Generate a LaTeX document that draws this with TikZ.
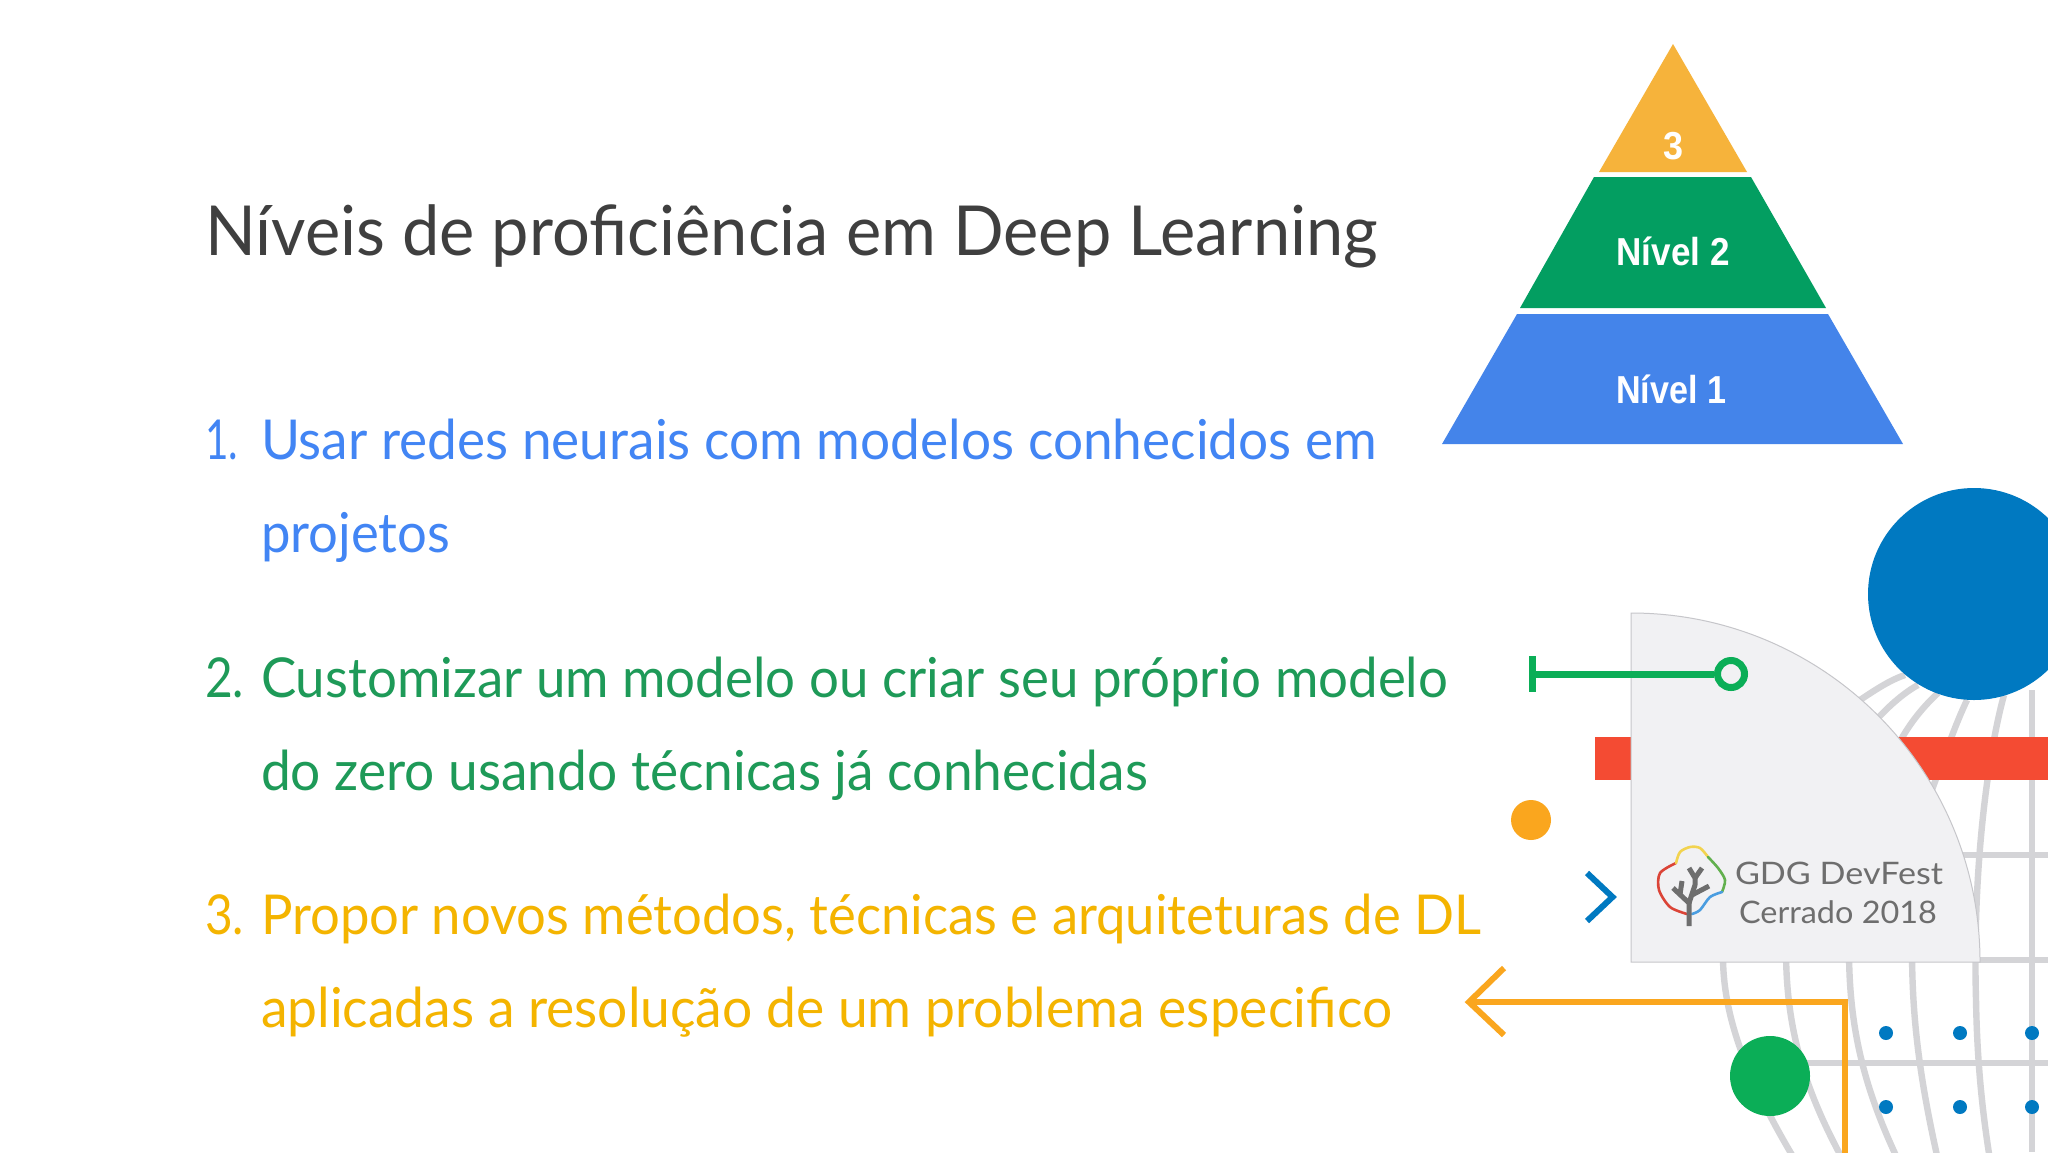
\documentclass[tikz,border=0pt]{standalone}
\usepackage{fontspec}
\usepackage{graphicx}
\setmainfont{Lato}
\newfontfamily\nivelfont{Liberation Sans}
\definecolor{titlec}{HTML}{3F3F3F}
\definecolor{bluet}{HTML}{4285F4}
\definecolor{greent}{HTML}{1E9A58}
\definecolor{yellowt}{HTML}{F4B400}
\definecolor{pyrY}{HTML}{F6B33B}
\definecolor{pyrG}{HTML}{039E61}
\definecolor{pyrB}{HTML}{4484EA}
\definecolor{circB}{HTML}{0079C1}
\definecolor{redbar}{HTML}{F44B33}
\definecolor{circG}{HTML}{0BAE57}
\definecolor{orangeL}{HTML}{FAA61E}
\definecolor{gridc}{HTML}{D4D4D7}
\definecolor{cardc}{HTML}{F1F1F3}
\definecolor{cardl}{HTML}{C6C6CA}
\definecolor{logot}{HTML}{6E6E6E}
\definecolor{logoR}{HTML}{DB4437}
\definecolor{logoY}{HTML}{F2D34F}
\definecolor{logoG}{HTML}{62B04E}
\definecolor{logoB}{HTML}{4A9DE0}
% a line of text set to a given width (px) at its own height
\newcommand{\fitw}[2]{\resizebox{#1\dimexpr 0.5pt\relax}{\height}{#2}}
\tikzset{
  x=0.5pt,y=-0.5pt,
  txt/.style={inner sep=0,outer sep=0,anchor=base west,font=\fontsize{27.5pt}{30pt}\selectfont},
  ttl/.style={inner sep=0,outer sep=0,anchor=base west,text=titlec,font=\fontsize{34.5pt}{38pt}\selectfont},
  pyr/.style={inner sep=0,outer sep=0,anchor=base,text=white,font=\fontsize{19.5pt}{22pt}\nivelfont\bfseries},
  logotxt/.style={inner sep=0,outer sep=0,anchor=base west,text=logot,font=\fontsize{15.5pt}{18pt}\selectfont},
  gridl/.style={draw=gridc,line width=3.2pt},
  logob/.style={line width=1.3pt,line cap=round,line join=round},
  tree/.style={draw=logot,line width=2.5pt,line cap=butt,line join=round},
}
\begin{document}
\begin{tikzpicture}
\useasboundingbox (0,0) rectangle (2048,1152);
\fill[white] (0,0) rectangle (2048,1152);

% title and list
\node[ttl] (title) at (205,255) {\fitw{1173}{Níveis de proficiência em Deep Learning}};
\node[txt,text=bluet] (n1) at (205,459) {\fitw{33}{1.}};
\node[txt,text=bluet] (l1a) at (261,459) {\fitw{1116}{Usar redes neurais com modelos conhecidos em}};
\node[txt,text=bluet] (l1b) at (261,552) {\fitw{189}{projetos}};
\node[txt,text=greent] (n2) at (205,697) {\fitw{39}{2.}};
\node[txt,text=greent] (l2a) at (261,697) {\fitw{1187}{Customizar um modelo ou criar seu próprio modelo}};
\node[txt,text=greent] (l2b) at (261,790) {\fitw{887}{do zero usando técnicas já conhecidas}};
\node[txt,text=yellowt] (n3) at (205,934) {\fitw{39}{3.}};
\node[txt,text=yellowt] (l3a) at (261,934) {\fitw{1220}{Propor novos métodos, técnicas e arquiteturas de DL}};
\node[txt,text=yellowt] (l3b) at (261,1027) {\fitw{1131}{aplicadas a resolução de um problema especifico}};

% pyramid
\fill[pyrY] (1673,44) -- (1747,172) -- (1599,172) -- cycle;
\fill[pyrG] (1594,177) -- (1751,177) -- (1826,308) -- (1520,308) -- cycle;
\fill[pyrB] (1517,314) -- (1828,314) -- (1903,444) -- (1442,444) -- cycle;
\node[pyr] (p3) at (1673,159) {\fitw{20}{3}};
\node[pyr] (p2) at (1673,265) {\fitw{113}{Nível 2}};
\node[pyr] (p1) at (1671,403) {\fitw{110}{Nível 1}};

% globe lines
\begin{scope}
\clip (0,0) rectangle (2048,1152);
\draw[gridl] (1963,855) -- (2048,855);
\draw[gridl] (1975,960) -- (2048,960);
\draw[gridl] (1800,1063) -- (2048,1063);
\draw[gridl] (2032,690) -- (2032,1152);
\draw[gridl] (1723,950) .. controls (1722,1000) and (1735,1060) .. (1795,1160);
\draw[gridl] (1786,950) .. controls (1786,1030) and (1805,1090) .. (1843,1160);
\draw[gridl] (1849,950) .. controls (1849,1030) and (1865,1090) .. (1898,1160);
\draw[gridl] (1912,950) .. controls (1912,1020) and (1920,1080) .. (1938,1160);
\draw[gridl] (2004,695) .. controls (1990,745) and (1972,860) .. (1976,1000) .. controls (1977,1060) and (1982,1110) .. (1990,1160);
\draw[gridl] (1905,675) .. controls (1890,680) and (1875,690) .. (1860,700);
\draw[gridl] (1918,685) .. controls (1905,692) and (1890,705) .. (1878,718);
\draw[gridl] (1938,693) .. controls (1925,705) and (1910,722) .. (1898,745);
\draw[gridl] (1967,700) .. controls (1955,725) and (1945,755) .. (1930,795);
\end{scope}

% red bar
\fill[redbar] (1595,737) rectangle (2048,780);

% card
\draw[draw=cardl,line width=0.5pt,fill=cardc] (1631,613) arc[start angle=-90,end angle=0,radius=349] -- (1631,962) -- cycle;

% green connector with T end and ring
\coordinate (gs) at (1532.5,674);
\node[circle,draw=circG,line width=3.5pt,fill=cardc,minimum size=13.5pt,inner sep=0] (gr) at (1731,674) {};
\draw[draw=circG,line width=3.5pt] (gs) -- (gr);
\draw[draw=circG,line width=3.5pt] (gs) ++(0,-18) -- ++(0,36);

% dots and circles
\fill[circB] (1974,594) circle[radius=106];
\fill[orangeL] (1531,820) circle[radius=20];
\fill[circG] (1770,1076) circle[radius=40];
\foreach \dx in {1886,1960,2032}{\foreach \dy in {1033,1107}{\fill[circB] (\dx,\dy) circle[radius=7];}}

% blue chevron
\draw[draw=circB,line width=3pt,line join=miter] (1587,873) -- (1612.5,897) -- (1587,921);

% orange arrow
\coordinate (oe) at (1845,1160);
\coordinate (oc) at (1845,1002);
\coordinate (ot) at (1469,1002);
\draw[draw=orangeL,line width=3pt] (oe) -- (oc) -- (ot);
\draw[draw=orangeL,line width=3pt] (1504,968) -- (ot) -- (1504,1035);

% logo
\draw[logob,draw=logoR] plot[smooth] coordinates {(1687,914) (1670,907) (1659,890) (1660,873) (1676,863)};
\draw[logob,draw=logoY] plot[smooth] coordinates {(1676,863) (1680,852) (1690,847) (1700,848) (1708,857)};
\draw[logob,draw=logoG] plot[smooth] coordinates {(1708,857) (1718,868) (1725,880) (1722,892)};
\draw[logob,draw=logoB] plot[smooth] coordinates {(1722,892) (1710,897) (1700,910) (1692,914)};
\draw[tree] (1689,926) -- (1689,903) -- (1673,888);
\draw[tree] (1680,894) -- (1682,881);
\draw[tree] (1689,903) -- (1695,885) -- (1695,878) -- (1689,868);
\draw[tree] (1695,878) -- (1702,868);
\draw[tree] (1692,895) -- (1709,886);
\node[logotxt] (g1) at (1735,884) {\fitw{208}{GDG DevFest}};
\node[logotxt] (g2) at (1739,923) {\fitw{198}{Cerrado 2018}};
\end{tikzpicture}
\end{document}
